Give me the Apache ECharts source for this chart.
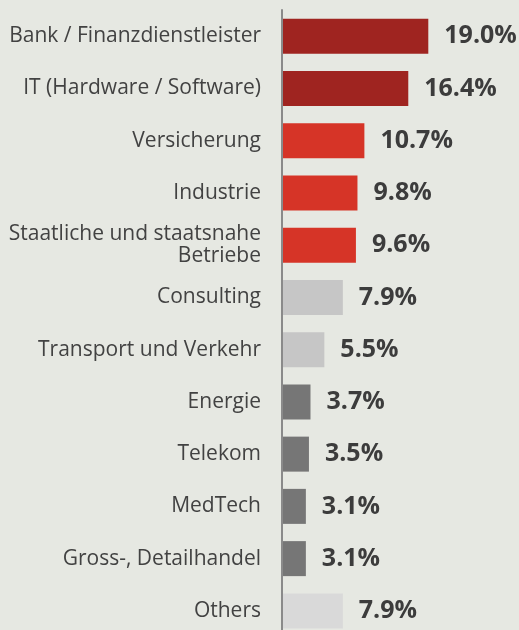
<!DOCTYPE html>
<html>
<head>
<meta charset="utf-8">
<script src="https://cdn.jsdelivr.net/npm/echarts@6/dist/echarts.min.js"></script>
<style>
  html, body { margin: 0; padding: 0; background: #e6e8e2; }
  #chart { width: 519px; height: 630px; }
</style>
</head>
<body>
<div id="chart"></div>
<script>
const categories = [
    'Bank / Finanzdienstleister',
    'IT (Hardware / Software)',
    'Versicherung',
    'Industrie',
    'Staatliche und staatsnahe\nBetriebe',
    'Consulting',
    'Transport und Verkehr',
    'Energie',
    'Telekom',
    'MedTech',
    'Gross-, Detailhandel',
    'Others'
];
const values = [19.0, 16.4, 10.7, 9.8, 9.6, 7.9, 5.5, 3.7, 3.5, 3.1, 3.1, 7.9];

// one colour per bar, same order as categories
const barColors = [
    '#9f2420', '#9f2420',
    '#d63427', '#d63427', '#d63427',
    '#c6c6c6', '#c6c6c6',
    '#767676', '#767676', '#767676', '#767676',
    '#d9d9d9'
];

const chart = echarts.init(document.getElementById('chart'));
chart.setOption({
    backgroundColor: '#e6e8e2',
    animation: false,
    grid: { left: 282, top: 10, width: 154, height: 627, outerBoundsMode: 'none', containLabel: false },
    xAxis: {
        type: 'value',
        min: 0,
        max: 20,
        show: false
    },
    yAxis: {
        type: 'category',
        inverse: true,
        data: categories,
        z: 10,
        axisLine: { lineStyle: { color: '#8a8a8a', width: 2 } },
        axisTick: { show: false },
        axisLabel: {
            margin: 21,
            fontFamily: 'Open Sans',
            fontSize: 21,
            lineHeight: 22,
            color: '#424242'
        }
    },
    series: [{
        type: 'bar',
        barWidth: 35,
        data: values.map((v, i) => ({ value: v, itemStyle: { color: barColors[i] } })),
        label: {
            show: true,
            position: 'right',
            distance: 16,
            fontFamily: 'Open Sans',
            fontWeight: 'bold',
            fontSize: 25,
            color: '#3c3c3c',
            formatter: p => p.value.toFixed(1) + '%'
        }
    }]
});
</script>
</body>
</html>
